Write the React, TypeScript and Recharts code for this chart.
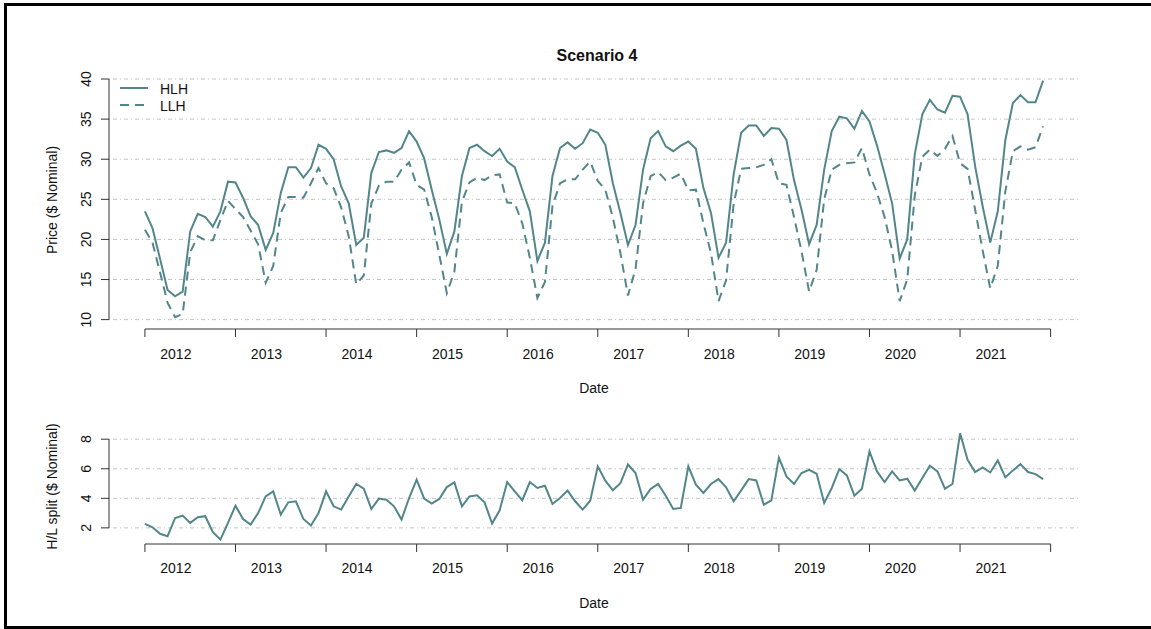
import { LineChart, Line, XAxis, YAxis, ReferenceLine } from 'recharts';

const years = ['2012', '2013', '2014', '2015', '2016', '2017', '2018', '2019', '2020', '2021'];

// monthly values, Jan 2012 .. Dec 2021
const hlh = [
  23.5, 21.4, 17.6, 13.7, 12.9, 13.5, 21.0, 23.2, 22.8, 21.6, 23.5, 27.2,
  27.1, 25.2, 22.9, 21.8, 18.7, 20.8, 25.8, 29.0, 29.0, 27.7, 28.9, 31.8,
  31.3, 30.0, 26.6, 24.5, 19.3, 20.2, 28.3, 30.9, 31.1, 30.8, 31.4, 33.5,
  32.2, 30.1, 26.2, 22.5, 18.2, 21.0, 27.9, 31.4, 31.8, 31.0, 30.4, 31.3,
  29.7, 29.0, 26.2, 23.5, 17.3, 19.6, 27.9, 31.4, 32.1, 31.3, 32.0, 33.7,
  33.3, 31.8, 27.0, 23.3, 19.3, 21.8, 28.7, 32.6, 33.5, 31.6, 31.0, 31.7,
  32.2, 31.3, 26.4, 23.3, 17.7, 19.6, 28.1, 33.3, 34.2, 34.2, 32.9, 33.9,
  33.8, 32.4, 27.4, 23.7, 19.4, 21.8, 28.7, 33.5, 35.3, 35.1, 33.8, 36.0,
  34.7, 31.7, 28.2, 24.5, 17.6, 20.0, 30.6, 35.6, 37.4, 36.2, 35.8, 37.9,
  37.8, 35.6, 29.1, 24.1, 19.6, 23.5, 32.4, 37.0, 38.0, 37.1, 37.1, 39.8,
];

const llh = [
  21.2, 19.6, 15.9, 12.1, 10.3, 10.7, 18.4, 20.4, 19.9, 19.9, 22.4, 24.8,
  23.8, 22.8, 21.1, 19.4, 14.6, 16.7, 23.3, 25.3, 25.3, 25.2, 27.0, 28.9,
  27.0, 26.4, 24.0, 20.4, 14.4, 15.5, 24.5, 26.7, 27.2, 27.2, 28.7, 29.6,
  26.8, 26.2, 22.8, 18.1, 13.3, 16.0, 24.7, 27.1, 27.7, 27.4, 28.0, 28.1,
  24.6, 24.5, 22.0, 17.7, 12.7, 14.7, 24.2, 27.0, 27.5, 27.5, 28.7, 29.7,
  27.3, 26.2, 22.7, 18.3, 13.0, 16.3, 24.5, 27.9, 28.4, 27.4, 27.7, 28.2,
  26.1, 26.2, 22.0, 18.3, 12.3, 14.9, 24.4, 28.8, 28.9, 29.0, 29.3, 30.0,
  27.0, 26.8, 22.8, 18.5, 13.5, 16.2, 25.0, 28.7, 29.3, 29.5, 29.6, 31.4,
  28.1, 25.8, 22.8, 18.6, 12.3, 15.0, 25.5, 30.3, 31.2, 30.4, 31.3, 32.9,
  29.5, 28.8, 23.7, 18.6, 13.9, 16.7, 26.0, 31.0, 31.6, 31.2, 31.5, 34.1,
];

const split = [
  2.27, 2.04, 1.60, 1.44, 2.67, 2.83, 2.34, 2.72, 2.79, 1.71, 1.21, 2.34,
  3.50, 2.60, 2.22, 3.00, 4.13, 4.47, 2.90, 3.73, 3.80, 2.60, 2.16, 3.00,
  4.47, 3.46, 3.24, 4.13, 4.97, 4.65, 3.28, 3.98, 3.91, 3.46, 2.56, 4.02,
  5.26, 3.98, 3.64, 3.96, 4.76, 5.08, 3.46, 4.13, 4.20, 3.73, 2.29, 3.19,
  5.10, 4.47, 3.87, 5.10, 4.70, 4.85, 3.62, 4.02, 4.52, 3.80, 3.24, 3.84,
  6.16, 5.19, 4.54, 5.03, 6.29, 5.71, 3.91, 4.63, 4.97, 4.18, 3.28, 3.35,
  6.16, 4.92, 4.36, 4.97, 5.30, 4.74, 3.80, 4.54, 5.30, 5.21, 3.57, 3.87,
  6.76, 5.48, 4.97, 5.71, 5.93, 5.66, 3.69, 4.70, 5.98, 5.55, 4.18, 4.65,
  7.17, 5.82, 5.10, 5.82, 5.21, 5.33, 4.52, 5.37, 6.20, 5.82, 4.65, 4.97,
  8.40, 6.61, 5.78, 6.09, 5.75, 6.56, 5.42, 5.89, 6.31, 5.78, 5.64, 5.30,
];

const priceTicks = [10, 15, 20, 25, 30, 35, 40];
const splitTicks = [2, 4, 6, 8];
const yearTicks = [0, 12, 24, 36, 48, 60, 72, 84, 96, 108, 120];

const data = hlh.map((v, i) => ({ t: i, hlh: v, llh: llh[i], split: split[i] }));

const TEAL = '#53868B';
const FONT = '"Liberation Sans", Arial, Helvetica, sans-serif';
const W = 1151;
const X_MIN = -4.76;
const X_MAX = 123.76;
const PLOT_W = 970;
const LABEL_SHIFT = (4.1 * PLOT_W) / (X_MAX - X_MIN);

function YearTick({ x, y, payload, lift }: any) {
  const k = payload.value / 12;
  if (k >= years.length) return <g />;
  return (
    <text x={x + LABEL_SHIFT} y={y + lift} textAnchor="middle" fontSize={14} fill="#111" fontFamily={FONT}>
      {years[k]}
    </text>
  );
}

function ValueTick({ x, y, payload }: any) {
  const bx = x - 8;
  return (
    <text x={bx} y={y} transform={`rotate(-90, ${bx}, ${y})`} textAnchor="middle" fontSize={14} fill="#111" fontFamily={FONT}>
      {payload.value}
    </text>
  );
}

// dot-dash grid at the labelled ticks only
const gridLines = (ticks: number[]) =>
  ticks.map((t) => <ReferenceLine key={'g' + t} y={t} stroke="#c4c4c4" strokeDasharray="1 3 4 3" />);

export default function App() {
  return (
    <div style={{ position: 'absolute', left: 0, top: 0, width: W, height: 629, background: '#fff', fontFamily: FONT, overflow: 'hidden' }}>
      <div style={{ position: 'absolute', left: 4, top: 3, width: 1152, height: 626, border: '3px solid #000', boxSizing: 'border-box' }} />

      <div style={{ position: 'absolute', left: 0, top: 0 }}>
        <LineChart width={W} height={400} data={data} margin={{ top: 71, right: 72, bottom: 0, left: 0 }}>
          {gridLines(priceTicks)}
          <XAxis
            type="number"
            dataKey="t"
            domain={[X_MIN, X_MAX]}
            ticks={yearTicks}
            interval={0}
            allowDataOverflow
            height={71}
            axisLine={false}
            tickLine={{ stroke: '#333' }}
            tickSize={8}
            tickMargin={2}
            tick={<YearTick lift={20} />}
            label={{ value: 'Date', position: 'insideBottom', offset: 7, fontSize: 14, fill: '#111', fontFamily: FONT }}
          />
          <YAxis
            type="number"
            domain={[8.83, 41.0]}
            ticks={priceTicks}
            interval={0}
            allowDataOverflow
            width={109}
            axisLine={false}
            tickLine={{ stroke: '#333' }}
            tickSize={8}
            tickMargin={2}
            tick={<ValueTick />}
            label={{ value: 'Price ($ Nominal)', angle: -90, position: 'insideLeft', offset: 52, fontSize: 14, fill: '#111', fontFamily: FONT, style: { textAnchor: 'middle' } }}
          />
          <ReferenceLine segment={[{ x: yearTicks[0], y: 8.83 }, { x: yearTicks[yearTicks.length - 1], y: 8.83 }]} stroke="#333" ifOverflow="visible" />
          <ReferenceLine segment={[{ x: X_MIN, y: priceTicks[0] }, { x: X_MIN, y: priceTicks[priceTicks.length - 1] }]} stroke="#333" ifOverflow="visible" />
          <Line type="linear" dataKey="hlh" stroke={TEAL} strokeWidth={2} dot={false} isAnimationActive={false} />
          <Line type="linear" dataKey="llh" stroke={TEAL} strokeWidth={2} strokeDasharray="9 6" dot={false} isAnimationActive={false} />
        </LineChart>
      </div>

      <div style={{ position: 'absolute', left: 0, top: 400 }}>
        <LineChart width={W} height={229} data={data} margin={{ top: 29, right: 72, bottom: 0, left: 0 }}>
          {gridLines(splitTicks)}
          <XAxis
            type="number"
            dataKey="t"
            domain={[X_MIN, X_MAX]}
            ticks={yearTicks}
            interval={0}
            allowDataOverflow
            height={85}
            axisLine={false}
            tickLine={{ stroke: '#333' }}
            tickSize={8}
            tickMargin={2}
            tick={<YearTick lift={19} />}
            label={{ value: 'Date', position: 'insideBottom', offset: 21, fontSize: 14, fill: '#111', fontFamily: FONT }}
          />
          <YAxis
            type="number"
            domain={[0.91, 8.69]}
            ticks={splitTicks}
            interval={0}
            allowDataOverflow
            width={109}
            axisLine={false}
            tickLine={{ stroke: '#333' }}
            tickSize={8}
            tickMargin={2}
            tick={<ValueTick />}
            label={{ value: 'H/L split ($ Nominal)', angle: -90, position: 'insideLeft', offset: 52, fontSize: 14, fill: '#111', fontFamily: FONT, style: { textAnchor: 'middle' } }}
          />
          <ReferenceLine segment={[{ x: yearTicks[0], y: 0.91 }, { x: yearTicks[yearTicks.length - 1], y: 0.91 }]} stroke="#333" ifOverflow="visible" />
          <ReferenceLine segment={[{ x: X_MIN, y: splitTicks[0] }, { x: X_MIN, y: splitTicks[splitTicks.length - 1] }]} stroke="#333" ifOverflow="visible" />
          <Line type="linear" dataKey="split" stroke={TEAL} strokeWidth={2} dot={false} isAnimationActive={false} />
        </LineChart>
      </div>

      <svg width={W} height={130} style={{ position: 'absolute', left: 0, top: 0, pointerEvents: 'none' }}>
        <text x={597} y={61} textAnchor="middle" fontSize={16} fontWeight="bold" fill="#111" fontFamily={FONT}>Scenario 4</text>
        <line x1={120} x2={148} y1={88} y2={88} stroke={TEAL} strokeWidth={2} />
        <line x1={120} x2={148} y1={105} y2={105} stroke={TEAL} strokeWidth={2} strokeDasharray="9 6" />
        <text x={160} y={93.5} fontSize={14} fill="#111" fontFamily={FONT}>HLH</text>
        <text x={160} y={110.5} fontSize={14} fill="#111" fontFamily={FONT}>LLH</text>
      </svg>
    </div>
  );
}
